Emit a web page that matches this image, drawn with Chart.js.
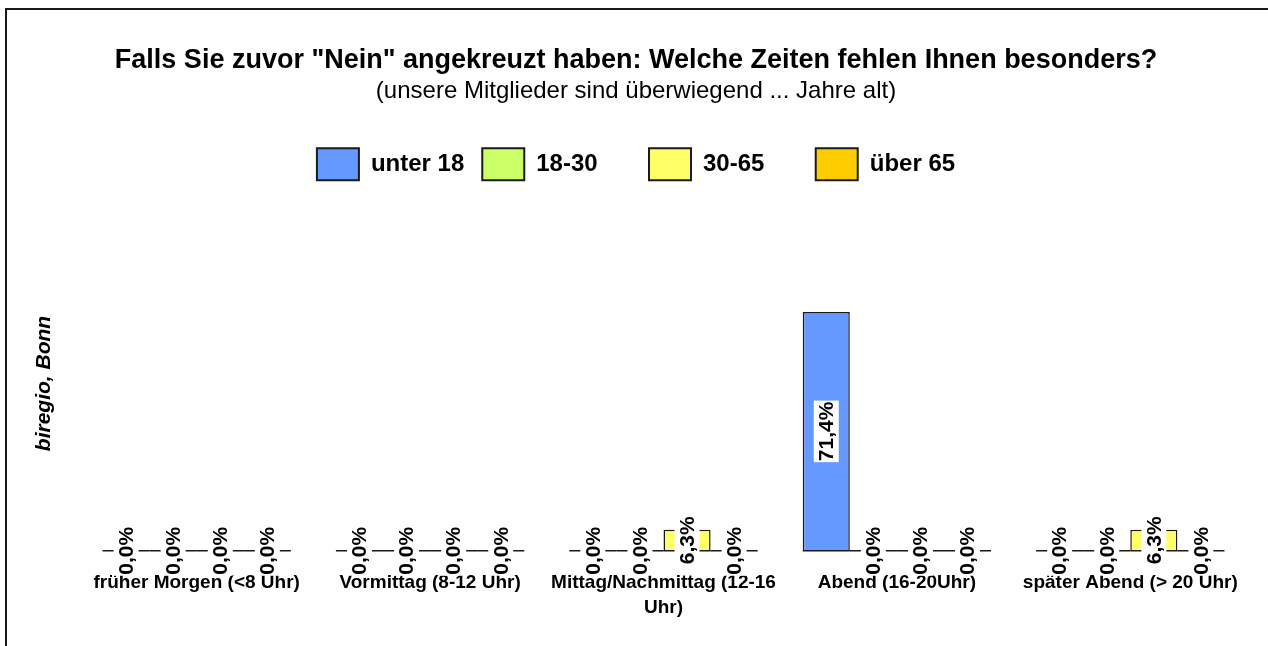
<!DOCTYPE html>
<html>
<head>
<meta charset="utf-8">
<script src="https://cdn.jsdelivr.net/npm/chart.js@4"></script>
<style>
  body { margin: 0; background: #fff; }
  #wrap { position: relative; width: 1268px; height: 646px; overflow: hidden; }
  #frame { position: absolute; left: 5px; top: 8px; width: 1400px; height: 800px; border: 2px solid #1a1a1a; }
  canvas { position: absolute; left: 0; top: 0; }
</style>
</head>
<body>
<div id="wrap">
  <div id="frame"></div>
  <canvas id="chart" width="1268" height="646"></canvas>
</div>
<script>
let categories = ['früher Morgen (<8 Uhr)', 'Vormittag (8-12 Uhr)', ['Mittag/Nachmittag (12-16', 'Uhr)'], 'Abend (16-20Uhr)', 'später Abend (> 20 Uhr)'];
let seriesNames = ['unter 18', '18-30', '30-65', 'über 65'];
let unter18 = [0, 0, 0, 71.4, 0];
let age18to30 = [0, 0, 0, 0, 0];
let age30to65 = [0, 0, 6.3, 0, 6.3];
let ueber65 = [0, 0, 0, 0, 0];
let barColors = ['#6699FF', '#CCFF66', '#FFFF66', '#FFCC00'];

let fontFam = '"Liberation Sans", Arial, sans-serif';

function fmt(v){
  return v.toFixed(1).replace('.', ',') + '%';
}

// value labels, rotated, on white boxes + the flat outline of zero bars
const valueLabels = {
  id: 'valueLabels',
  afterDatasetsDraw(chart){
    let ctx = chart.ctx;
    chart.data.datasets.forEach((ds, i) => {
      chart.getDatasetMeta(i).data.forEach(bar => {
        ctx.save();
        ctx.strokeStyle = '#1a1a1a';
        ctx.lineWidth = 1.5;
        ctx.beginPath();
        ctx.moveTo(bar.x - bar.width/2, bar.base);
        ctx.lineTo(bar.x + bar.width/2, bar.base);
        ctx.stroke();
        ctx.restore();
      });
    });
    chart.data.datasets.forEach((ds, i) => {
      chart.getDatasetMeta(i).data.forEach((bar, j) => {
        let txt = fmt(ds.data[j]);
        ctx.save();
        ctx.font = 'bold 21px ' + fontFam;
        ctx.textAlign = 'center';
        ctx.textBaseline = 'middle';
        ctx.translate(bar.x, (bar.y + bar.base)/2);
        ctx.rotate(-Math.PI/2);
        let w = ctx.measureText(txt).width;
        ctx.fillStyle = '#fff';
        ctx.fillRect(-w/2 - 1, -12.5, w + 2, 25);
        ctx.fillStyle = '#000';
        ctx.fillText(txt, 0, 1);
        ctx.restore();
      });
    });
  }
};

let allData = [unter18, age18to30, age30to65, ueber65];

new Chart('chart', {
  type: 'bar',
  data: {
    labels: categories,
    datasets: seriesNames.map((name, i) => ({
      label: name,
      data: allData[i],
      backgroundColor: barColors[i],
      borderColor: '#1a1a1a',
      borderWidth: 1.5,
      categoryPercentage: 0.807,
      barPercentage: 1.0
    }))
  },
  options: {
    responsive: false,
    animation: false,
    layout: { padding: { left: 25, right: 21, top: 0, bottom: 7 } },
    plugins: {
      title: {
        display: true,
        text: 'Falls Sie zuvor "Nein" angekreuzt haben: Welche Zeiten fehlen Ihnen besonders?',
        color: '#000',
        font: { family: fontFam, size: 27, weight: 'bold' },
        padding: { top: 44, bottom: 1 }
      },
      subtitle: {
        display: true,
        text: '(unsere Mitglieder sind überwiegend ... Jahre alt)',
        color: '#000',
        font: { family: fontFam, size: 24 },
        padding: { top: 0, bottom: 24 }
      },
      legend: {
        position: 'top',
        labels: {
          color: '#000',
          font: { family: fontFam, size: 24, weight: 'bold' },
          boxWidth: 42,
          boxHeight: 32,
          padding: 18,
          generateLabels(chart){
            let extra = ['', '     ', '     ', ''];
            return chart.data.datasets.map((ds, i) => ({
              text: ds.label + extra[i],
              fillStyle: ds.backgroundColor,
              strokeStyle: '#1a1a1a',
              lineWidth: 2,
              hidden: false,
              datasetIndex: i
            }));
          }
        }
      },
      tooltip: { enabled: false }
    },
    scales: {
      x: {
        grid: { display: false, drawTicks: false, tickLength: 0 },
        border: { display: false },
        ticks: {
          color: '#000',
          font: { family: fontFam, size: 19, weight: 'bold', lineHeight: 1.32 },
          padding: 19,
          maxRotation: 0,
          autoSkip: false
        }
      },
      xTop: {
        type: 'category',
        position: 'top',
        grid: { display: false, drawTicks: false },
        border: { display: false },
        ticks: { display: false },
        afterFit(s){ s.height = 26; }
      },
      y: {
        min: 0,
        max: 100,
        grid: { display: false },
        border: { display: false },
        ticks: { display: false },
        title: {
          display: true,
          text: 'biregio, Bonn',
          color: '#000',
          font: { family: fontFam, size: 21, weight: 'bold', style: 'italic' },
          padding: { top: 7, bottom: 0 }
        },
        afterFit(s){ s.width = 55; }
      }
    }
  },
  plugins: [valueLabels]
});
</script>
</body>
</html>
